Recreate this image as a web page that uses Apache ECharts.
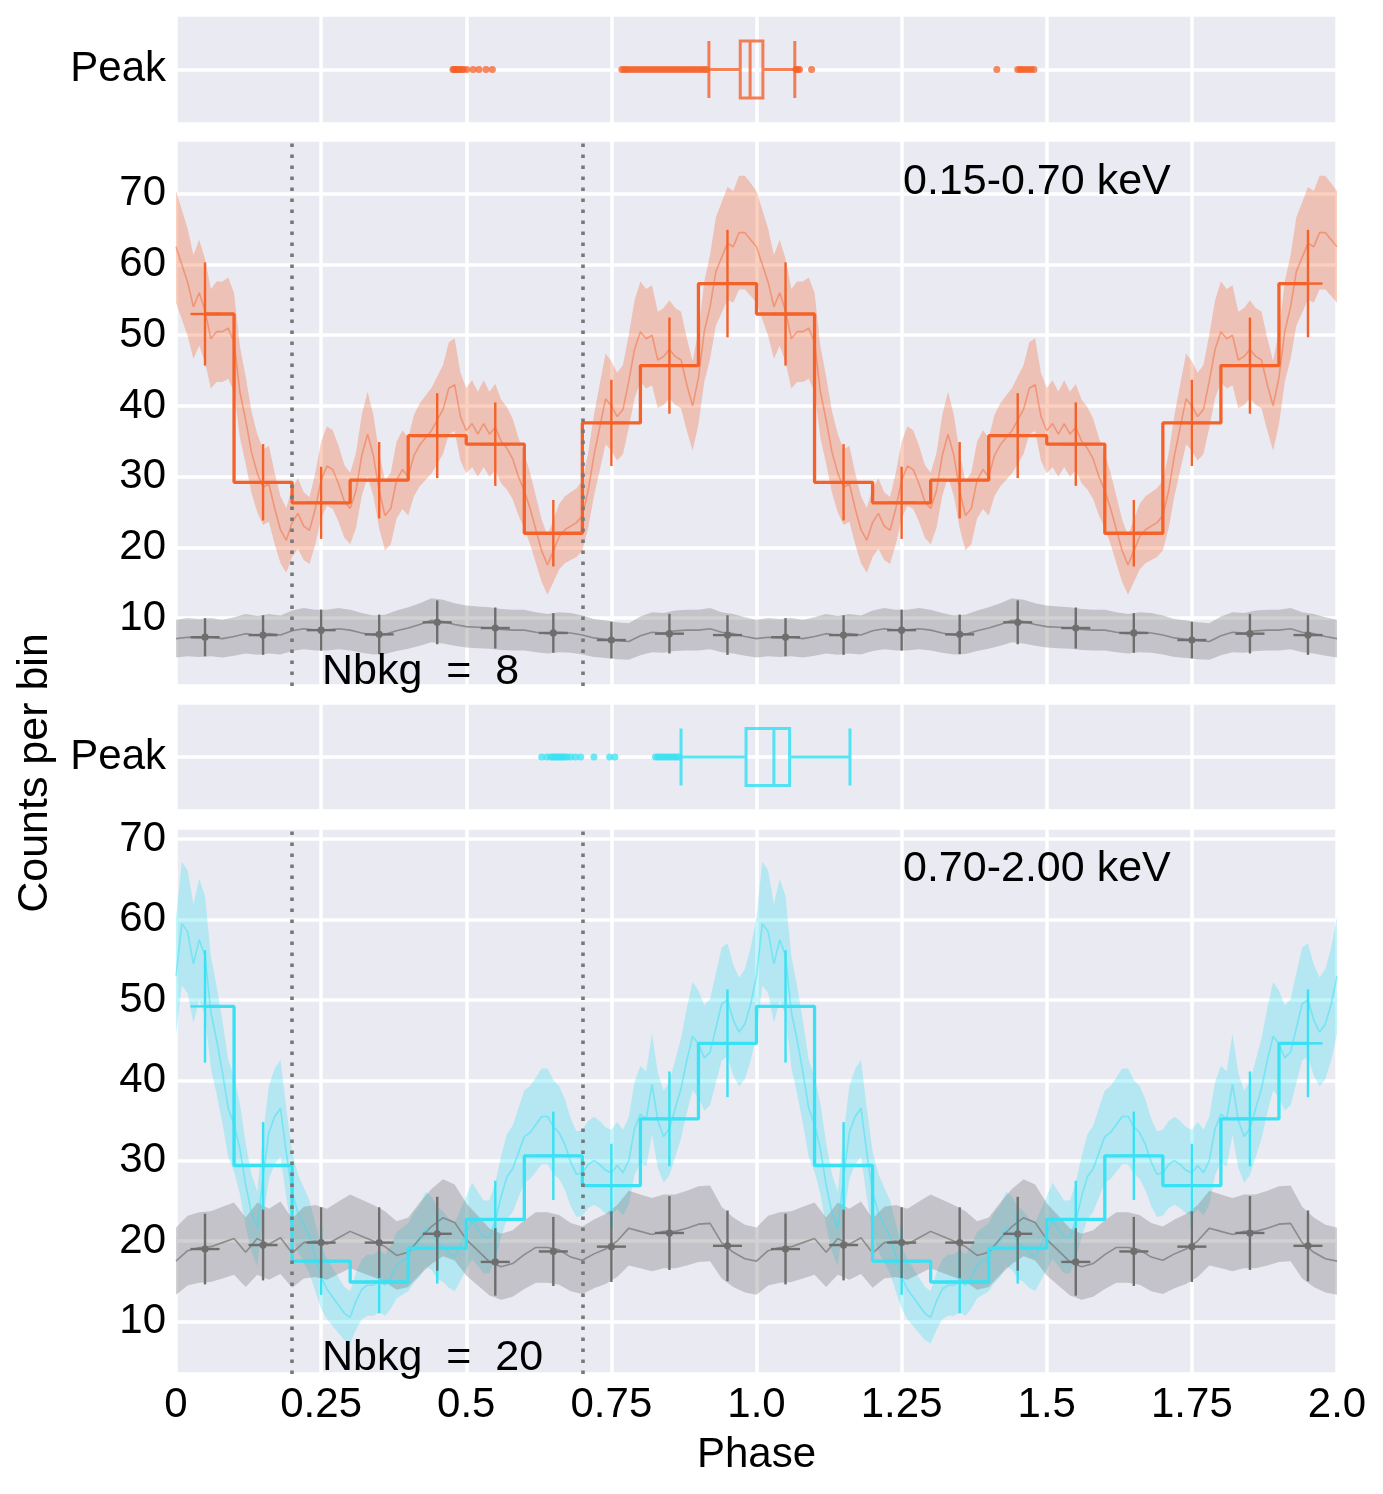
<!DOCTYPE html>
<html><head><meta charset="utf-8">
<script src="https://cdn.jsdelivr.net/npm/echarts@6/dist/echarts.min.js"></script>
<style>html,body{margin:0;padding:0;background:#fff}#chart{width:1383px;height:1494px}</style>
</head><body><div id="chart"></div>
<script>
// ================= DATA =================
const xTickLabels = ['0', '0.25', '0.5', '0.75', '1.0', '1.25', '1.5', '1.75', '2.0'];
const phaseCuts = [0.2, 0.7];
const binCenters = [0.05, 0.15, 0.25, 0.35, 0.45, 0.55, 0.65, 0.75, 0.85, 0.95];
const binHalfWidth = 0.025;

// 0.15-0.70 keV binned counts and errors
const softCounts = [53.0, 29.2, 26.3, 29.5, 35.8, 34.6, 22.0, 37.6, 45.7, 57.3];
const softErr    = [7.3, 5.4, 5.1, 5.4, 6.0, 5.9, 4.7, 6.1, 6.8, 7.6];
const softBkg    = [7.3, 7.6, 8.3, 7.7, 9.4, 8.6, 7.9, 6.9, 7.8, 7.6];
const softBkgErr = [2.7, 2.8, 2.9, 2.8, 3.1, 2.9, 2.8, 2.6, 2.8, 2.8];
// 0.70-2.00 keV binned counts and errors
const hardCounts = [49.2, 29.4, 17.5, 14.9, 19.1, 22.7, 30.6, 26.9, 35.2, 44.6];
const hardErr    = [7.0, 5.4, 4.2, 3.9, 4.4, 4.8, 5.5, 5.2, 5.9, 6.7];
const hardBkg    = [19.0, 19.5, 19.8, 19.8, 20.9, 17.4, 18.7, 19.3, 21.0, 19.4];
const hardBkgErr = [4.4, 4.4, 4.4, 4.4, 4.6, 4.2, 4.3, 4.4, 4.6, 4.4];

// fine-resolution curves over one cycle (phase step 0.01 for source, 0.02 for background)
const fineStep = 0.01;
const bkgFineStep = 0.02;
const softFine = [62.5, 60, 57.5, 54, 56, 53.5, 49.5, 50.5, 50.5, 51,
  49, 42, 38, 33.5, 30.5, 28.5, 29, 25.5, 22.5, 21,
  23.5, 24.8, 23, 22.4, 25.5, 29.5, 31.5, 31, 29, 26.5,
  25.5, 28, 33, 36, 33, 28, 24.5, 25.5, 29.5, 31,
  30, 33, 34.5, 35.5, 36.5, 38, 39.5, 42.5, 43, 38.5,
  36.5, 37.5, 36, 37.5, 36, 37, 35, 34, 32.5, 30,
  28, 25.5, 22.5, 19.5, 17.5, 19.5, 21.5, 22.5, 23, 23.5,
  24.5, 28, 33, 37, 41, 40, 38.5, 39.5, 43.5, 48,
  50.5, 49.5, 50, 46.5, 47, 48, 47, 46.5, 43, 40,
  44, 50.5, 54, 59, 61, 63, 62.5, 64.5, 64.5, 63.5];
const hardFine = [53, 59.5, 58.5, 54.5, 57.5, 55.5, 48.5, 45, 41, 36.5,
  34.5, 31.5, 27, 23.5, 21.5, 28, 33.5, 35.5, 36.5, 31,
  26, 23.5, 22, 20.5, 18, 15.5, 14, 13, 12, 11,
  10.5, 12.5, 14, 14.5, 14.5, 15, 14.5, 15.5, 17, 17.5,
  18, 19.2, 20, 21.5, 21, 19.8, 19.3, 18.5, 18, 19.5,
  21, 22.5, 21.5, 20.5, 20.5, 22.5, 25.5, 28, 29, 31,
  33, 33.5, 34.5, 35.5, 35.5, 34.2, 33.5, 32, 29.8, 28.3,
  28.5, 29.5, 30, 29.5, 28.8, 28.5, 29.4, 28.5, 30, 34,
  35.8, 35.2, 39.5, 35, 33, 34, 36.5, 39, 42.5, 45.5,
  44.5, 42.8, 43.5, 46.5, 49.5, 50, 47.5, 46, 47, 49.5];
const softBkgFine = [7.1, 7.3, 7.2, 7.3, 7.1, 7.4, 7.8, 7.55, 7.8, 7.6,
  8.2, 8.5, 8.3, 8.3, 8.5, 8.3, 7.9, 7.6, 7.7, 8.2,
  8.6, 9.1, 9.7, 9.5, 9.1, 8.8, 8.7, 8.6, 8.4, 8.3,
  8.3, 8.0, 7.8, 8.0, 7.9, 7.6, 7.2, 7.0, 6.8, 6.7,
  7.5, 8.0, 7.9, 8.2, 8.3, 8.3, 8.5, 8.0, 7.8, 7.4];
const hardBkgFine = [17.5, 18.8, 19.2, 19.3, 19.8, 20.3, 18.6, 20.3, 19.6, 20.4,
  18.5, 19.8, 20.0, 19.6, 20.4, 21.2, 20.6, 20.0, 19.3, 18.2,
  18.6, 20.3, 21.8, 22.9, 22.3, 20.2, 18.8, 17.4, 16.8, 17.2,
  18.3, 19.2, 19.2, 18.9, 18.0, 17.6, 18.4, 19.0, 20.0, 21.6,
  21.2, 20.8, 21.2, 21.2, 21.6, 22.1, 22.2, 19.8, 18.6, 17.8];

// peak-phase box plots: [whisker low, Q1, median, Q3, whisker high]
const softPeakBox = [0.918, 0.972, 0.989, 1.011, 1.066];
const hardPeakBox = [0.870, 0.982, 1.030, 1.057, 1.161];
const softPeakOutliers = [0.477, 0.479, 0.481, 0.483, 0.486, 0.489, 0.492, 0.495, 0.501, 0.512, 0.522, 0.534, 0.545,
  0.768, 0.772, 0.776, 0.780, 0.785, 0.790, 0.795, 0.800, 0.805, 0.810, 0.815, 0.820, 0.825, 0.830, 0.835,
  0.840, 0.845, 0.850, 0.855, 0.860, 0.865, 0.870, 0.875, 0.880, 0.885, 0.890, 0.895, 0.900, 0.905, 0.910, 0.914,
  1.068, 1.071, 1.074, 1.095,
  1.414, 1.450, 1.454, 1.458, 1.463, 1.468, 1.473, 1.478];
const hardPeakOutliers = [0.630, 0.639, 0.645, 0.649, 0.652, 0.655, 0.658, 0.661, 0.664, 0.667, 0.670, 0.674,
  0.680, 0.688, 0.697, 0.720, 0.747, 0.756,
  0.826, 0.830, 0.834, 0.838, 0.842, 0.846, 0.850, 0.854, 0.858, 0.862, 0.866];

// ================= STYLE =================
const FONT = '"Liberation Sans", Arial, sans-serif';
const PANEL_BG = '#EAEAF2';
const ORANGE = '#F4622A';
const CYAN = '#38E1F3';
const GRAY = '#6E6E6E';

// ================= HELPERS =================
function foldTwice(vals, step) {
  const pts = [];
  for (let c = 0; c < 2; c++) vals.forEach((v, i) => pts.push([+(c + i * step).toFixed(4), v]));
  pts.push([2, vals[0]]);
  return pts;
}
function binsTwice(vals, errs) {
  const pts = [];
  for (let c = 0; c < 2; c++) binCenters.forEach((x, i) => pts.push(errs ? [+(c + x).toFixed(3), vals[i], errs[i]] : [+(c + x).toFixed(3), vals[i]]));
  return pts;
}
function bandSeries(gi, pts, color, z) {
  // Poisson band: value +/- sqrt(value)
  const band = pts.map(([x, v]) => [x, v - Math.sqrt(v), v + Math.sqrt(v)]);
  return {
    type: 'custom', xAxisIndex: gi, yAxisIndex: gi, z, silent: true,
    data: band, encode: { x: 0, y: [1, 2] },
    renderItem(params, api) {
      if (params.dataIndex !== 0) return null;
      const up = band.map(d => api.coord([d[0], d[2]]));
      const lo = band.map(d => api.coord([d[0], d[1]])).reverse();
      return { type: 'polygon', shape: { points: up.concat(lo) }, style: { fill: color } };
    }
  };
}
function fineLine(gi, pts, color, z) {
  return { type: 'line', xAxisIndex: gi, yAxisIndex: gi, z, silent: true, data: pts, symbol: 'none',
    lineStyle: { color, width: 1.6 } };
}
function stepLine(gi, pts, color, z) {
  return { type: 'line', xAxisIndex: gi, yAxisIndex: gi, z, silent: true, data: pts, step: 'middle', symbol: 'none',
    lineStyle: { color, width: 3.3 },
    markLine: { silent: true, symbol: ['none', 'none'], label: { show: false }, animation: false,
      lineStyle: { color: '#787878', width: 3.6, type: [3.4, 7.6], cap: 'butt' },
      data: phaseCuts.map(v => ({ xAxis: v })) } };
}
function errSeries(gi, pts, color, width, dot, z) {
  return {
    type: 'custom', xAxisIndex: gi, yAxisIndex: gi, z, silent: true, data: pts, encode: { x: 0, y: 1 },
    renderItem(params, api) {
      const x = api.value(0), y = api.value(1), e = api.value(2);
      const t = api.coord([x, y + e]), b = api.coord([x, y - e]);
      const l = api.coord([x - binHalfWidth, y]), r = api.coord([x + binHalfWidth, y]);
      const children = [
        { type: 'line', shape: { x1: t[0], y1: t[1], x2: b[0], y2: b[1] }, style: { stroke: color, lineWidth: width } },
        { type: 'line', shape: { x1: l[0], y1: l[1], x2: r[0], y2: r[1] }, style: { stroke: color, lineWidth: width } }
      ];
      if (dot) children.push({ type: 'circle', shape: { cx: l[0] + (r[0] - l[0]) / 2, cy: l[1], r: 3.6 }, style: { fill: color } });
      return { type: 'group', children };
    }
  };
}
function boxSeries(gi, stats, color) {
  return { type: 'boxplot', xAxisIndex: gi, yAxisIndex: gi, layout: 'vertical', z: 3, silent: true,
    boxWidth: [57, 57], data: [[0].concat(stats)],
    itemStyle: { color: 'rgba(0,0,0,0)', borderColor: color, borderWidth: 3 } };
}
function outlierSeries(gi, xs, color) {
  return { type: 'scatter', xAxisIndex: gi, yAxisIndex: gi, z: 2, silent: true, symbolSize: 7,
    data: xs.map(x => [x, 0]), itemStyle: { color, opacity: 0.75 } };
}

// ================= OPTION =================
const grids = [
  { top: 15, height: 109 }, { top: 140, height: 546 }, { top: 703, height: 108 }, { top: 828, height: 546 }
].map(g => Object.assign({ left: 176, width: 1161, show: true, backgroundColor: PANEL_BG, borderWidth: 0 }, g));

const xAxes = grids.map((g, i) => ({
  gridIndex: i, type: 'value', min: 0, max: 2, interval: 0.25,
  axisLine: { show: false }, axisTick: { show: false },
  splitLine: { show: true, lineStyle: { color: '#FFFFFF', width: 3.5 } },
  axisLabel: i === 3 ? { show: true, fontSize: 42, fontFamily: FONT, color: '#000', margin: 10,
    formatter: v => xTickLabels[Math.round(v / 0.25)] } : { show: false },
  name: i === 3 ? 'Phase' : '', nameLocation: 'middle', nameGap: 60,
  nameTextStyle: { fontSize: 42, fontFamily: FONT, color: '#000' }
}));

function boxYAxis(gi) {
  return { gridIndex: gi, type: 'value', min: -1, max: 1, interval: 1,
    axisLine: { show: false }, axisTick: { show: false },
    splitLine: { show: true, lineStyle: { color: '#FFFFFF', width: 3.5 } },
    axisLabel: { fontSize: 42, fontFamily: FONT, color: '#000', margin: 10, padding: [5, 0, 0, 0], formatter: v => (v === 0 ? 'Peak' : '') } };
}
function mainYAxis(gi, min, max) {
  return { gridIndex: gi, type: 'value', min, max, minInterval: 10, maxInterval: 10, splitNumber: 7,
    axisLine: { show: false }, axisTick: { show: false },
    splitLine: { show: true, lineStyle: { color: '#FFFFFF', width: 3.5 } },
    axisLabel: { fontSize: 42, fontFamily: FONT, color: '#000', margin: 10, padding: [7, 0, 0, 0], showMinLabel: false, showMaxLabel: false } };
}

const option = {
  animation: false,
  backgroundColor: '#FFFFFF',
  grid: grids,
  xAxis: xAxes,
  yAxis: [boxYAxis(0), mainYAxis(1, 0.4, 77.6), boxYAxis(2), mainYAxis(3, 3.45, 71.4)],
  series: [
    boxSeries(0, softPeakBox, 'rgba(244,98,42,0.8)'),
    outlierSeries(0, softPeakOutliers, ORANGE),
    bandSeries(1, foldTwice(softBkgFine, bkgFineStep), 'rgba(128,128,128,0.36)', 1),
    bandSeries(1, foldTwice(softFine, fineStep), 'rgba(244,98,42,0.3)', 1),
    fineLine(1, foldTwice(softBkgFine, bkgFineStep), 'rgba(120,120,120,0.75)', 2),
    fineLine(1, foldTwice(softFine, fineStep), 'rgba(244,98,42,0.45)', 2),
    stepLine(1, binsTwice(softCounts), ORANGE, 3),
    errSeries(1, binsTwice(softCounts, softErr), ORANGE, 2.4, false, 4),
    errSeries(1, binsTwice(softBkg, softBkgErr), GRAY, 2.4, true, 4),

    boxSeries(2, hardPeakBox, 'rgba(56,225,243,0.85)'),
    outlierSeries(2, hardPeakOutliers, CYAN),
    bandSeries(3, foldTwice(hardFine, fineStep), 'rgba(56,225,243,0.3)', 1),
    bandSeries(3, foldTwice(hardBkgFine, bkgFineStep), 'rgba(128,128,128,0.36)', 1),
    fineLine(3, foldTwice(hardBkgFine, bkgFineStep), 'rgba(120,120,120,0.75)', 2),
    fineLine(3, foldTwice(hardFine, fineStep), 'rgba(56,225,243,0.5)', 2),
    stepLine(3, binsTwice(hardCounts), CYAN, 3),
    errSeries(3, binsTwice(hardCounts, hardErr), CYAN, 2.4, false, 4),
    errSeries(3, binsTwice(hardBkg, hardBkgErr), GRAY, 2.4, true, 4)
  ],
  graphic: [
    { type: 'text', x: 903, y: 182, z: 100, style: { text: '0.15-0.70 keV', fontSize: 43, fontFamily: FONT, fill: '#000', textAlign: 'left', textVerticalAlign: 'middle' } },
    { type: 'text', x: 322, y: 672, z: 100, style: { text: 'Nbkg  =  8', fontSize: 43, fontFamily: FONT, fill: '#000', textAlign: 'left', textVerticalAlign: 'middle' } },
    { type: 'text', x: 903, y: 869, z: 100, style: { text: '0.70-2.00 keV', fontSize: 43, fontFamily: FONT, fill: '#000', textAlign: 'left', textVerticalAlign: 'middle' } },
    { type: 'text', x: 322, y: 1358, z: 100, style: { text: 'Nbkg  =  20', fontSize: 43, fontFamily: FONT, fill: '#000', textAlign: 'left', textVerticalAlign: 'middle' } },
    { type: 'text', x: 35, y: 773, rotation: Math.PI / 2, z: 100, style: { text: 'Counts per bin', fontSize: 43, fontFamily: FONT, fill: '#000', textAlign: 'center', textVerticalAlign: 'middle' } }
  ]
};

const chart = echarts.init(document.getElementById('chart'), null, { renderer: 'canvas' });
chart.setOption(option);
</script>
</body></html>
